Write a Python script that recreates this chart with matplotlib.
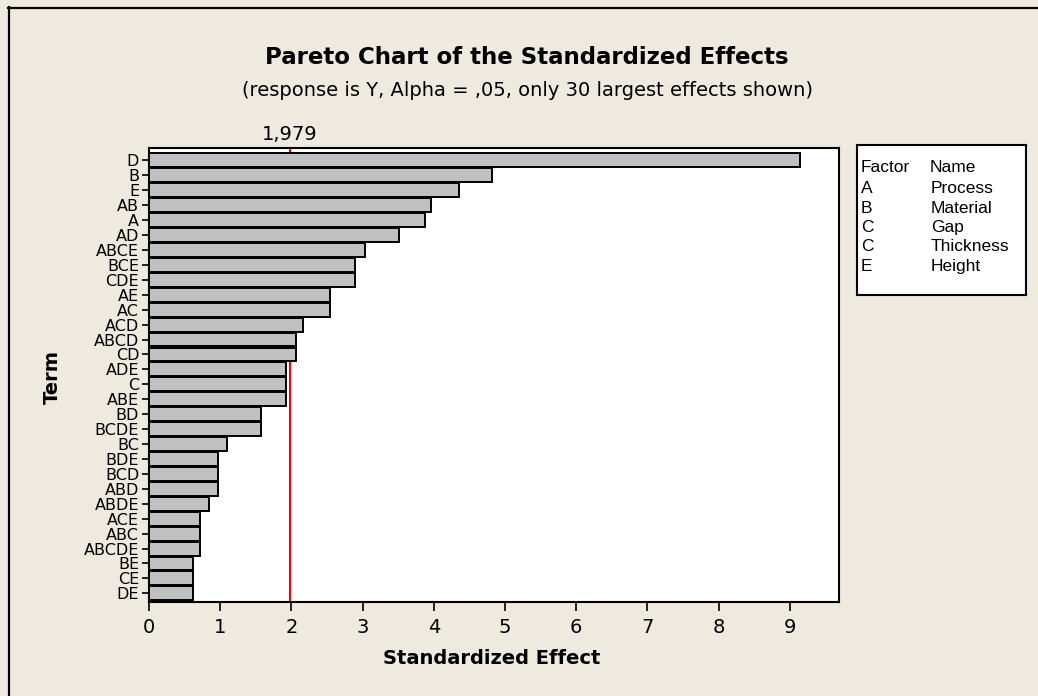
import matplotlib
matplotlib.use("Agg")
import matplotlib.pyplot as plt
import matplotlib.transforms as mtransforms
from matplotlib.lines import Line2D
from matplotlib.patches import Rectangle

# data
terms = ["D", "B", "E", "AB", "A", "AD", "ABCE", "BCE", "CDE", "AE",
         "AC", "ACD", "ABCD", "CD", "ADE", "C", "ABE", "BD", "BCDE", "BC",
         "BDE", "BCD", "ABD", "ABDE", "ACE", "ABC", "ABCDE", "BE", "CE", "DE"]
effects = [9.14, 4.82, 4.35, 3.96, 3.87, 3.51, 3.03, 2.90, 2.90, 2.54,
           2.54, 2.16, 2.06, 2.07, 1.93, 1.93, 1.93, 1.58, 1.58, 1.10,
           0.97, 0.97, 0.97, 0.85, 0.71, 0.71, 0.71, 0.62, 0.62, 0.62]
critical = 1.979
factor_letters = ["A", "B", "C", "C", "E"]
factor_names = ["Process", "Material", "Gap", "Thickness", "Height"]

bg = "#EEEAE0"
fig = plt.figure(figsize=(10.38, 6.96), dpi=100, facecolor=bg)
ax = fig.add_axes([0.1435, 0.1346, 0.6648, 0.6528])
ax.set_facecolor("white")

ypos = list(range(len(terms)))
ax.barh(ypos, effects, height=0.93, color="#C0C0C0", edgecolor="black",
        linewidth=1.4, zorder=3)
ax.axvline(critical, color="red", linewidth=1.5, zorder=2)

ax.set_xlim(0, 9.69)
ax.set_ylim(29.6, -0.83)
ax.set_xticks(range(10))
ax.set_yticks(ypos)
ax.set_yticklabels(terms)
ax.tick_params(axis="x", length=6.5, width=1.2, pad=5, labelsize=14)
ax.tick_params(axis="y", length=5, width=1.2, pad=2, labelsize=11.5)
for lab in ax.get_yticklabels():
    lab.set_fontstretch("semi-expanded")
for s in ax.spines.values():
    s.set_linewidth(1.5)

# critical value label above the frame
trans = mtransforms.blended_transform_factory(ax.transData, fig.transFigure)
ax.text(critical, 1 - 135 / 696, "1,979", transform=trans, ha="center",
        va="center", fontsize=14)

fig.text(0.508, 1 - 58 / 696, "Pareto Chart of the Standardized Effects",
         ha="center", va="center", fontsize=16.5, fontweight="bold")
fig.text(0.508, 1 - 90 / 696,
         "(response is Y, Alpha = ,05, only 30 largest effects shown)",
         ha="center", va="center", fontsize=14)
fig.text(492 / 1038, 1 - 659 / 696, "Standardized Effect", ha="center",
         va="center", fontsize=14, fontweight="bold")
fig.text(52 / 1038, 1 - 377 / 696, "Term", ha="center", va="center",
         fontsize=14, fontweight="bold", rotation=90)

# factor table box
fig.patches.append(Rectangle((857 / 1038, 1 - 295 / 696), 169 / 1038, 150 / 696,
                             transform=fig.transFigure, facecolor="white",
                             edgecolor="black", linewidth=1.5))
lf = "Liberation Sans"
fig.text(861 / 1038, 1 - 168 / 696, "Factor", family=lf, fontsize=12.5,
         ha="left", va="center")
fig.text(930 / 1038, 1 - 168 / 696, "Name", family=lf, fontsize=12.5,
         ha="left", va="center")
for i, (let, nm) in enumerate(zip(factor_letters, factor_names)):
    yy = 1 - (188.5 + 19.5 * i) / 696
    fig.text(861 / 1038, yy, let, family=lf, fontsize=12.5, ha="left", va="center")
    fig.text(931 / 1038, yy, nm, family=lf, fontsize=12.5, ha="left", va="center")

# outer frame (top and left edges only)
fig.lines.append(Line2D([8 / 1038, 1], [1 - 7.5 / 696, 1 - 7.5 / 696],
                        transform=fig.transFigure, color="black", linewidth=1.6))
fig.lines.append(Line2D([8.5 / 1038, 8.5 / 1038], [0, 1 - 7 / 696],
                        transform=fig.transFigure, color="black", linewidth=1.6))

fig.savefig("out.png", dpi=100, facecolor=bg)
